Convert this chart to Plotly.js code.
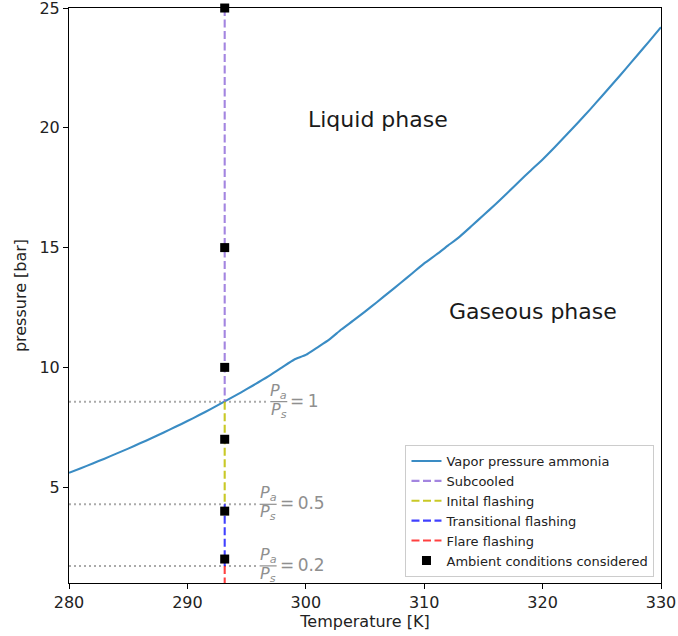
<!DOCTYPE html>
<html>
<head>
<meta charset="utf-8">
<script src="https://cdn.plot.ly/plotly-3.0.1.min.js"></script>
<style>html,body{margin:0;padding:0;background:#fff;}#chart{width:678px;height:636px;}</style>
</head>
<body>
<div id="chart"></div>
<script>
// ---- data ----
const temperatureK = [280,281,282,283,284,285,286,287,288,289,290,291,292,293,294,295,296,297,298,299,300,301,302,303,304,305,306,307,308,309,310,311,312,313,314,315,316,317,318,319,320,321,322,323,324,325,326,327,328,329,330];
const vaporPressureBar = [5.60,5.79,5.99,6.19,6.40,6.61,6.83,7.05,7.28,7.52,7.76,8.01,8.27,8.54,8.81,9.09,9.38,9.68,10.00,10.32,10.52,10.84,11.17,11.58,11.95,12.33,12.72,13.12,13.52,13.93,14.34,14.70,15.08,15.46,15.90,16.35,16.80,17.27,17.75,18.22,18.68,19.18,19.70,20.22,20.76,21.32,21.88,22.45,23.03,23.61,24.20];
const ambientT = 293.15;
const saturationPressureAtAmbient = 8.57;
const ambientPressures = [25, 15, 10, 7, 4, 2];
const pressureRatios = [1, 0.5, 0.2];
const ratioLabels = ['1', '0.5', '0.2'];
const regimeNames = ['Subcooled', 'Inital flashing', 'Transitional flashing', 'Flare flashing'];
const xRange = [280, 330];
const yRange = [1, 25];
const xTicks = [280, 290, 300, 310, 320, 330];
const yTicks = [5, 10, 15, 20, 25];

// ---- styles ----
const FONT = 'DejaVu Sans, Liberation Sans, sans-serif';
const regimeColors = ['rgba(147,112,219,0.85)', 'rgba(191,191,0,0.85)', 'rgba(0,0,255,0.75)', 'rgba(255,0,0,0.75)'];
const greyText = '#8f8f8f';
const dotLineEnd = [296.7, 295.8, 295.8];
const fracStart = [297.0, 296.1, 296.1];

const traces = [];
// dotted ratio lines (behind)
pressureRatios.forEach((r, i) => {
  const lvl = r * saturationPressureAtAmbient;
  traces.push({
    x: [xRange[0], dotLineEnd[i]], y: [lvl, lvl], mode: 'lines', showlegend: false, hoverinfo: 'skip',
    line: {color: '#aaaaaa', width: 2, dash: '2px,3px'}
  });
});
traces.push({
  x: temperatureK, y: vaporPressureBar, mode: 'lines', name: 'Vapor pressure ammonia',
  line: {color: '#3a8cc4', width: 2.1, shape: 'spline', smoothing: 0.6}
});
const bounds = [yRange[1]].concat(pressureRatios.map(r => r * saturationPressureAtAmbient)).concat([yRange[0]]);
regimeNames.forEach((nm, i) => {
  traces.push({
    x: [ambientT, ambientT], y: [bounds[i], bounds[i + 1]], mode: 'lines', name: nm,
    line: {color: regimeColors[i], width: 2.1, dash: '8px,3.5px'}
  });
});
traces.push({
  x: ambientPressures.map(() => ambientT), y: ambientPressures, mode: 'markers', name: 'Ambient conditions considered',
  marker: {symbol: 'square', size: 9, color: '#000'}, cliponaxis: false
});

const annotations = [
  {x: 300, y: 20.35, xref: 'x', yref: 'y', text: 'Liquid phase', showarrow: false, xanchor: 'left', yanchor: 'middle',
   font: {family: FONT, size: 22, color: '#1a1a1a'}},
  {x: 311.9, y: 12.35, xref: 'x', yref: 'y', text: 'Gaseous phase', showarrow: false, xanchor: 'left', yanchor: 'middle',
   font: {family: FONT, size: 22, color: '#1a1a1a'}}
];
const shapes = [];
pressureRatios.forEach((r, i) => {
  const lvl = r * saturationPressureAtAmbient;
  annotations.push({x: fracStart[i], y: lvl, xref: 'x', yref: 'y', xanchor: 'center', yanchor: 'bottom', xshift: 8.5, yshift: -1,
    text: '<i>P</i><sub><i>a</i></sub>', showarrow: false, borderpad: 0, font: {family: FONT, size: 16, color: greyText}});
  annotations.push({x: fracStart[i], y: lvl, xref: 'x', yref: 'y', xanchor: 'center', yanchor: 'top', xshift: 8.5, yshift: 3,
    text: '<i>P</i><sub><i>s</i></sub>', showarrow: false, borderpad: 0, font: {family: FONT, size: 16, color: greyText}});
  annotations.push({x: fracStart[i], y: lvl, xref: 'x', yref: 'y', xanchor: 'left', yanchor: 'middle', xshift: 19, yshift: 1,
    text: '=\u2009' + ratioLabels[i], showarrow: false, borderpad: 0, font: {family: FONT, size: 17, color: greyText}});
  shapes.push({type: 'line', xref: 'x', yref: 'y', xsizemode: 'pixel', xanchor: fracStart[i], x0: 0, x1: 17, y0: lvl, y1: lvl,
    line: {color: greyText, width: 1.2}});
});

const axisCommon = {
  showline: true, linecolor: '#000', linewidth: 1, mirror: true, showgrid: false, zeroline: false,
  ticks: 'outside', ticklen: 5, tickwidth: 1, tickcolor: '#000', ticklabeloverflow: 'allow',
  tickfont: {family: FONT, size: 16, color: '#222'}
};
const layout = {
  width: 678, height: 636,
  margin: {l: 69, r: 16.5, t: 8, b: 53, pad: 0},
  paper_bgcolor: '#fff', plot_bgcolor: '#fff',
  font: {family: FONT, color: '#222'},
  xaxis: Object.assign({}, axisCommon, {range: xRange, tickvals: xTicks,
    title: {text: 'Temperature [K]', font: {family: FONT, size: 16, color: '#222'}, standoff: 4}}),
  yaxis: Object.assign({}, axisCommon, {range: [yRange[0], yRange[1] + 0.001], tickvals: yTicks,
    title: {text: 'pressure [bar]', font: {family: FONT, size: 16, color: '#222'}, standoff: 8}}),
  showlegend: true,
  legend: {x: 0.989, y: 0.0104, xanchor: 'right', yanchor: 'bottom', bgcolor: 'rgba(255,255,255,0.85)',
    bordercolor: '#cccccc', borderwidth: 1, font: {family: FONT, size: 13, color: '#222'}, itemwidth: 30, tracegroupgap: 0},
  annotations: annotations,
  shapes: shapes
};
Plotly.newPlot('chart', traces, layout, {displayModeBar: false, staticPlot: true});
</script>
</body>
</html>
